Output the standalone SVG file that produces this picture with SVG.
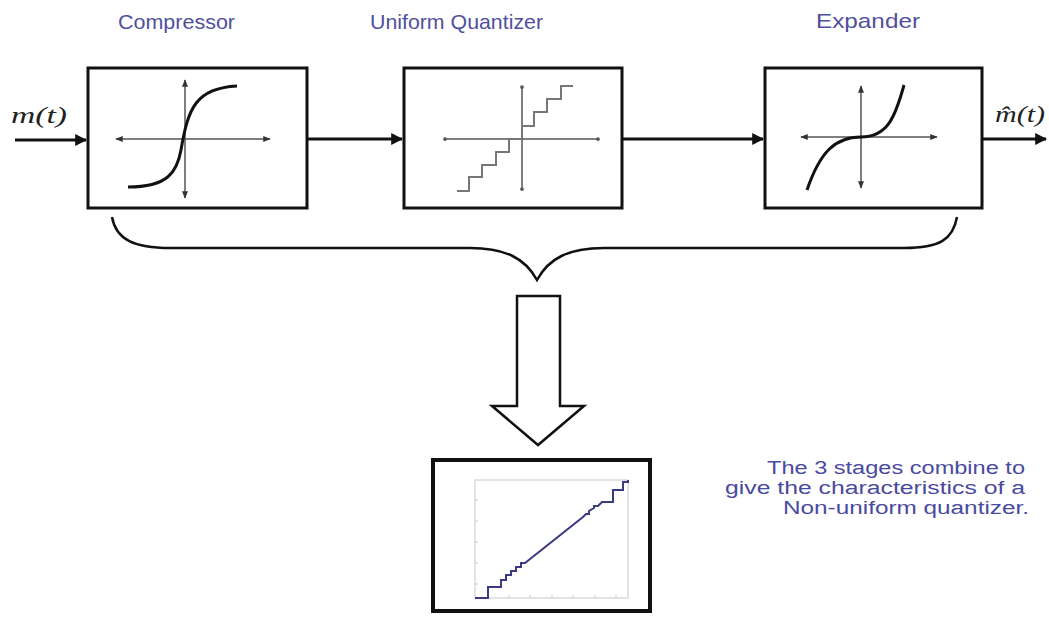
<svg xmlns="http://www.w3.org/2000/svg" width="1049" height="622" viewBox="0 0 1049 622">
<style>
.box{fill:#fff;stroke:#111;stroke-width:3}
.lbl{font-family:"Liberation Sans",Arial,sans-serif;font-size:21px;fill:#50509e}
.note{font-family:"Liberation Sans",Arial,sans-serif;font-size:18px;fill:#4a4aa0}
.sig{font-family:"Liberation Serif","Times New Roman",serif;font-style:italic;font-size:24px;fill:#222}
.conn{stroke:#111;stroke-width:3;fill:none}
.ax{stroke:#555;stroke-width:1.5;fill:none}
.curve{stroke:#111;stroke-width:3;fill:none}
.stair{stroke:#777;stroke-width:2;fill:none}
</style>
<defs>
<marker id="arr" viewBox="0 0 10 10" refX="9" refY="5" markerWidth="4" markerHeight="4" orient="auto" markerUnits="strokeWidth">
<path d="M0,0 L10,5 L0,10 z" fill="#111"/>
</marker>
<marker id="axa" viewBox="0 0 10 10" refX="9" refY="5" markerWidth="5" markerHeight="5" orient="auto-start-reverse" markerUnits="strokeWidth">
<path d="M0,1 L10,5 L0,9 z" fill="#333"/>
</marker>
<marker id="dot" viewBox="0 0 6 6" refX="3" refY="3" markerWidth="2.5" markerHeight="2.5" markerUnits="strokeWidth">
<circle cx="3" cy="3" r="3" fill="#555"/>
</marker>
</defs>
<rect width="1049" height="622" fill="#fff"/>

<g id="labels">
<text class="lbl" x="118" y="29" textLength="117" lengthAdjust="spacingAndGlyphs">Compressor</text>
<text class="lbl" x="370" y="29" textLength="173" lengthAdjust="spacingAndGlyphs">Uniform Quantizer</text>
<text class="lbl" x="816" y="28" textLength="104" lengthAdjust="spacingAndGlyphs">Expander</text>
</g>

<g id="input">
<text class="sig" x="11" y="123" textLength="56" lengthAdjust="spacingAndGlyphs">m(t)</text>
</g>
<g id="output">
<text class="sig" x="995" y="122" textLength="50" lengthAdjust="spacingAndGlyphs">m̂(t)</text>
</g>

<g id="compressor">
<rect class="box" x="88" y="68" width="219" height="140"/>
<line class="ax" x1="116" y1="139" x2="270" y2="139" marker-start="url(#axa)" marker-end="url(#axa)"/>
<line class="ax" x1="185" y1="80" x2="185" y2="198" marker-start="url(#axa)" marker-end="url(#axa)"/>
<path class="curve" d="M128,187 C168,187 177,172 181,150 C188,108 196,88 237,86"/>
</g>

<g id="quantizer">
<rect class="box" x="404" y="68" width="218" height="140"/>
<line class="ax" x1="445" y1="139" x2="598" y2="139" marker-start="url(#dot)" marker-end="url(#dot)"/>
<line class="ax" x1="522" y1="87" x2="522" y2="189" marker-start="url(#dot)" marker-end="url(#dot)"/>
<path class="stair" d="M457,191 H469 V177 H482 V165 H496 V152 H509 V139 H522 M522,139 V126 H534 V112 H547 V99 H561 V86 H573"/>
</g>

<g id="expander">
<rect class="box" x="765" y="68" width="217" height="140"/>
<line class="ax" x1="801" y1="137" x2="937" y2="137" marker-start="url(#axa)" marker-end="url(#axa)"/>
<line class="ax" x1="861" y1="86" x2="861" y2="188" marker-start="url(#axa)" marker-end="url(#axa)"/>
<path class="curve" d="M807,190 C820,152 835,137 861,137 C887,137 895,118 904,85"/>
</g>

<g id="result">
<rect x="433" y="460" width="217" height="151" fill="#fff" stroke="#111" stroke-width="4"/>
<rect x="475" y="480" width="153" height="118" fill="none" stroke="#c8c8c8" stroke-width="1"/>
<g stroke="#c8c8c8" stroke-width="1">
<line x1="488" y1="598" x2="488" y2="595"/><line x1="509" y1="598" x2="509" y2="595"/><line x1="530" y1="598" x2="530" y2="595"/><line x1="552" y1="598" x2="552" y2="595"/><line x1="573" y1="598" x2="573" y2="595"/><line x1="595" y1="598" x2="595" y2="595"/><line x1="616" y1="598" x2="616" y2="595"/>
<line x1="475" y1="584" x2="478" y2="584"/><line x1="475" y1="563" x2="478" y2="563"/><line x1="475" y1="542" x2="478" y2="542"/><line x1="475" y1="521" x2="478" y2="521"/><line x1="475" y1="500" x2="478" y2="500"/>
</g>
<path d="M475,598 H488 V587 H501 V580 H506 V575 H511 V571 H516 V567 H521 V563 H525 L583,517 L586,514 H589 V511 L594,508 V506 H598 L602,502 H613 V490 H623 V482 H628 V480" fill="none" stroke="#3a3a80" stroke-width="2"/>
</g>

<g id="brace">
<path d="M112,217 C116,240 135,248 170,248 H470 C505,248 525,258 537,280 C549,258 569,248 604,248 H904 C939,248 953,240 957,217" fill="none" stroke="#111" stroke-width="2.5"/>
</g>

<g id="bigarrow">
<path d="M517,296 H560 V406 H584 L538,445 L492,406 H517 Z" fill="#fff" stroke="#111" stroke-width="2.5" stroke-linejoin="miter"/>
</g>

<g id="connectors">
<line class="conn" x1="15" y1="140" x2="86" y2="140" marker-end="url(#arr)"/>
<line class="conn" x1="307" y1="139" x2="402" y2="139" marker-end="url(#arr)"/>
<line class="conn" x1="622" y1="139" x2="763" y2="139" marker-end="url(#arr)"/>
<line class="conn" x1="982" y1="139" x2="1046" y2="139" marker-end="url(#arr)"/>
</g>

<g id="note">
<text class="note" x="767" y="474" textLength="258" lengthAdjust="spacingAndGlyphs">The 3 stages combine to</text>
<text class="note" x="725" y="494" textLength="300" lengthAdjust="spacingAndGlyphs">give the characteristics of a</text>
<text class="note" x="783" y="514" textLength="246" lengthAdjust="spacingAndGlyphs">Non-uniform quantizer.</text>
</g>
</svg>
